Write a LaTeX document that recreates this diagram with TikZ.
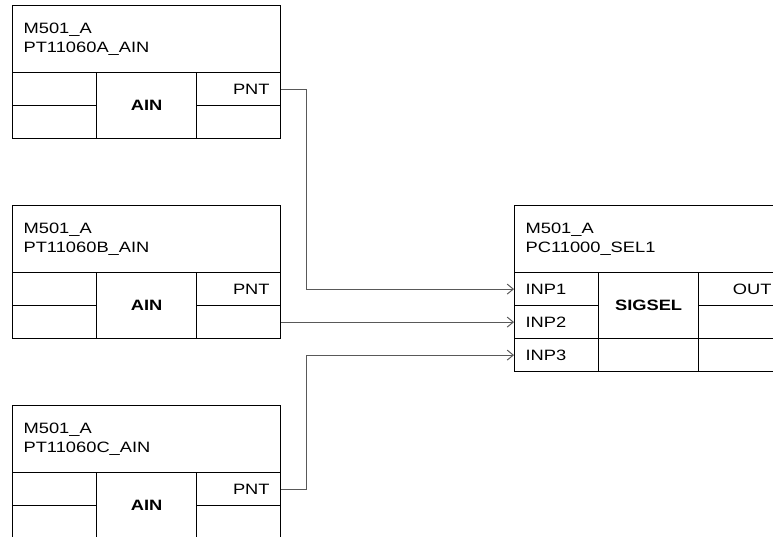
\documentclass[tikz,border=0pt]{standalone}
\usepackage{fontspec}
\setmainfont{Liberation Sans}[FakeStretch=1.22]
\usepackage{tikz}
\usetikzlibrary{arrows.meta,positioning,calc}
\tikzset{
  hdr/.style={draw, line width=1.2pt, anchor=north west, minimum height=67pt, text width=246pt, inner xsep=11pt, inner ysep=0pt, align=left},
  cell/.style={draw, line width=1.2pt, anchor=north west, minimum height=33pt, text width=62pt, inner xsep=11pt, inner ysep=0pt},
  pl/.style={cell, align=left},
  pr/.style={cell, align=right},
  fn/.style={draw, line width=1.2pt, anchor=north west, minimum width=100pt, minimum height=66pt, inner sep=0pt, font=\bfseries},
  wire/.style={-{Straight Barb[length=6pt, width=10pt]}, line width=1pt, draw=black!65},
}
\begin{document}
\fontsize{15}{19}\selectfont
\begin{tikzpicture}[x=1pt,y=-1pt]
\useasboundingbox (0,0) rectangle (773,537);
\clip (0,0) rectangle (773,537);
% AIN block A
\node[hdr] (ha) at (12,5) {M501\_A\\PT11060A\_AIN};
\node[cell] (la1) at (12,72) {}; \node[cell] (la2) at (12,105) {};
\node[fn] (fa) at (96,72) {AIN};
\node[pr] (pa) at (196,72) {PNT}; \node[cell] (qa) at (196,105) {};
% AIN block B
\node[hdr] (hb) at (12,205) {M501\_A\\PT11060B\_AIN};
\node[cell] (lb1) at (12,272) {}; \node[cell] (lb2) at (12,305) {};
\node[fn] (fb) at (96,272) {AIN};
\node[pr] (pb) at (196,272) {PNT}; \node[cell] (qb) at (196,305) {};
% AIN block C
\node[hdr] (hc) at (12,405) {M501\_A\\PT11060C\_AIN};
\node[cell] (lc1) at (12,472) {}; \node[cell] (lc2) at (12,505) {};
\node[fn] (fc) at (96,472) {AIN};
\node[pr] (pc) at (196,472) {PNT}; \node[cell] (qc) at (196,505) {};
% SIGSEL block
\node[hdr] (hs) at (514,205) {M501\_A\\PC11000\_SEL1};
\node[pl] (i1) at (514,272) {INP1}; \node[pl] (i2) at (514,305) {INP2}; \node[pl] (i3) at (514,338) {INP3};
\node[fn] (fs) at (598,272) {SIGSEL}; \node[cell, text width=78pt] (ms) at (598,338) {};
\node[pr] (os) at (698,272) {OUT}; \node[cell] (r2) at (698,305) {}; \node[cell] (r3) at (698,338) {};
% connections
\draw[wire] (pa.east) -- ++(25,0) |- (i1.west);
\draw[wire] (qb.east) -- (i2.west);
\draw[wire] (pc.east) -- ++(25,0) |- (i3.west);
\end{tikzpicture}
\end{document}
